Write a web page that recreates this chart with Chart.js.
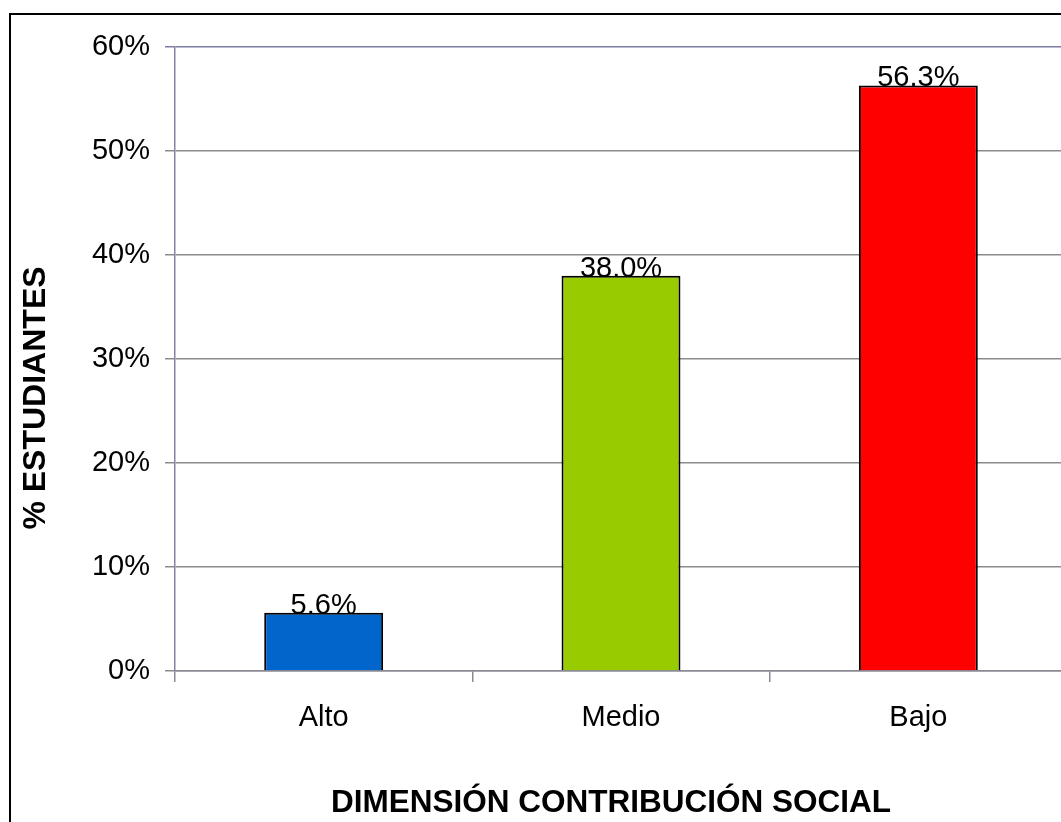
<!DOCTYPE html>
<html>
<head>
<meta charset="utf-8">
<script src="https://cdn.jsdelivr.net/npm/chart.js@4.4.1/dist/chart.umd.min.js"></script>
<style>
  html, body { margin: 0; padding: 0; overflow: hidden; background: #fff; }
  #wrap { position: absolute; left: 0; top: 0; width: 1067px; height: 822px; }
</style>
</head>
<body>
<div id="wrap"><canvas id="chart"></canvas></div>
<script>
const categories = ['Alto', 'Medio', 'Bajo'];
const percentValues = [5.6, 38.0, 56.3];
const barColors = ['#0066CC', '#99CC00', '#FF0000'];
const yTicks = [0, 10, 20, 30, 40, 50, 60];
const xTitle = 'DIMENSIÓN CONTRIBUCIÓN SOCIAL';
const yTitle = '% ESTUDIANTES';

const FONT = '"Liberation Sans", Arial, sans-serif';

// outer frame + axis titles + labels over the bars
const decor = {
    id: 'decor',
    beforeDraw(chart) {
        const ctx = chart.ctx;
        ctx.save();
        ctx.fillStyle = '#fff';
        ctx.fillRect(0, 0, chart.width, chart.height);
        ctx.strokeStyle = '#000';
        ctx.lineWidth = 2;
        ctx.strokeRect(10, 14, chart.width + 20, chart.height + 20);
        ctx.restore();
    },
    afterDatasetsDraw(chart) {
        const ctx = chart.ctx;
        const meta = chart.getDatasetMeta(0);
        ctx.save();
        ctx.fillStyle = '#000';
        ctx.font = '29px ' + FONT;
        ctx.textAlign = 'center';
        ctx.textBaseline = 'alphabetic';
        meta.data.forEach(function (bar, i) {
            ctx.fillText(percentValues[i].toFixed(1) + '%', bar.x, bar.y + 1);
        });
        ctx.restore();
    },
    afterDraw(chart) {
        const ctx = chart.ctx;
        ctx.save();
        ctx.fillStyle = '#000';
        ctx.font = 'bold 31.5px ' + FONT;
        ctx.textAlign = 'center';
        ctx.textBaseline = 'alphabetic';
        ctx.fillText(xTitle, 611, 812);
        ctx.translate(45, 398);
        ctx.rotate(-Math.PI / 2);
        ctx.font = 'bold 32px ' + FONT;
        ctx.fillText(yTitle, 0, 0);
        ctx.restore();
    }
};

new Chart(document.getElementById('chart'), {
    type: 'bar',
    data: {
        labels: categories,
        datasets: [{
            data: percentValues,
            backgroundColor: barColors,
            borderColor: '#000',
            borderWidth: 2,
            barPercentage: 0.4,
            categoryPercentage: 1
        }]
    },
    options: {
        responsive: true,
        maintainAspectRatio: false,
        animation: false,
        layout: { padding: { top: 47, left: 0, right: 0, bottom: 0 } },
        plugins: {
            legend: { display: false },
            tooltip: { enabled: false }
        },
        scales: {
            x: {
                grid: {
                    offset: true,
                    drawOnChartArea: false,
                    tickLength: 11,
                    color: '#8a8a96',
                    lineWidth: 1.5
                },
                border: { color: '#8a8a96', width: 1.5 },
                ticks: {
                    color: '#000',
                    font: { family: FONT, size: 29 },
                    padding: 19
                },
                afterFit(scale) {
                    scale.height = 151;
                    scale.paddingLeft = 0;
                    scale.paddingRight = 0;
                }
            },
            y: {
                min: 0,
                max: 60,
                afterBuildTicks(scale) {
                    scale.ticks = yTicks.map(v => ({ value: v }));
                },
                grid: {
                    tickLength: 10,
                    color: ctx => ctx.tick && ctx.tick.value === 60 ? '#7c7ca6' : '#8c8c8c',
                    lineWidth: 1.5
                },
                border: { color: '#8484a0', width: 1.5 },
                ticks: {
                    color: '#000',
                    font: { family: FONT, size: 29 },
                    padding: 15,
                    callback: v => v + '%'
                },
                afterFit(scale) {
                    scale.width = 175;
                    scale.paddingTop = 0;
                    scale.paddingBottom = 0;
                }
            }
        }
    },
    plugins: [decor]
});
</script>
</body>
</html>
